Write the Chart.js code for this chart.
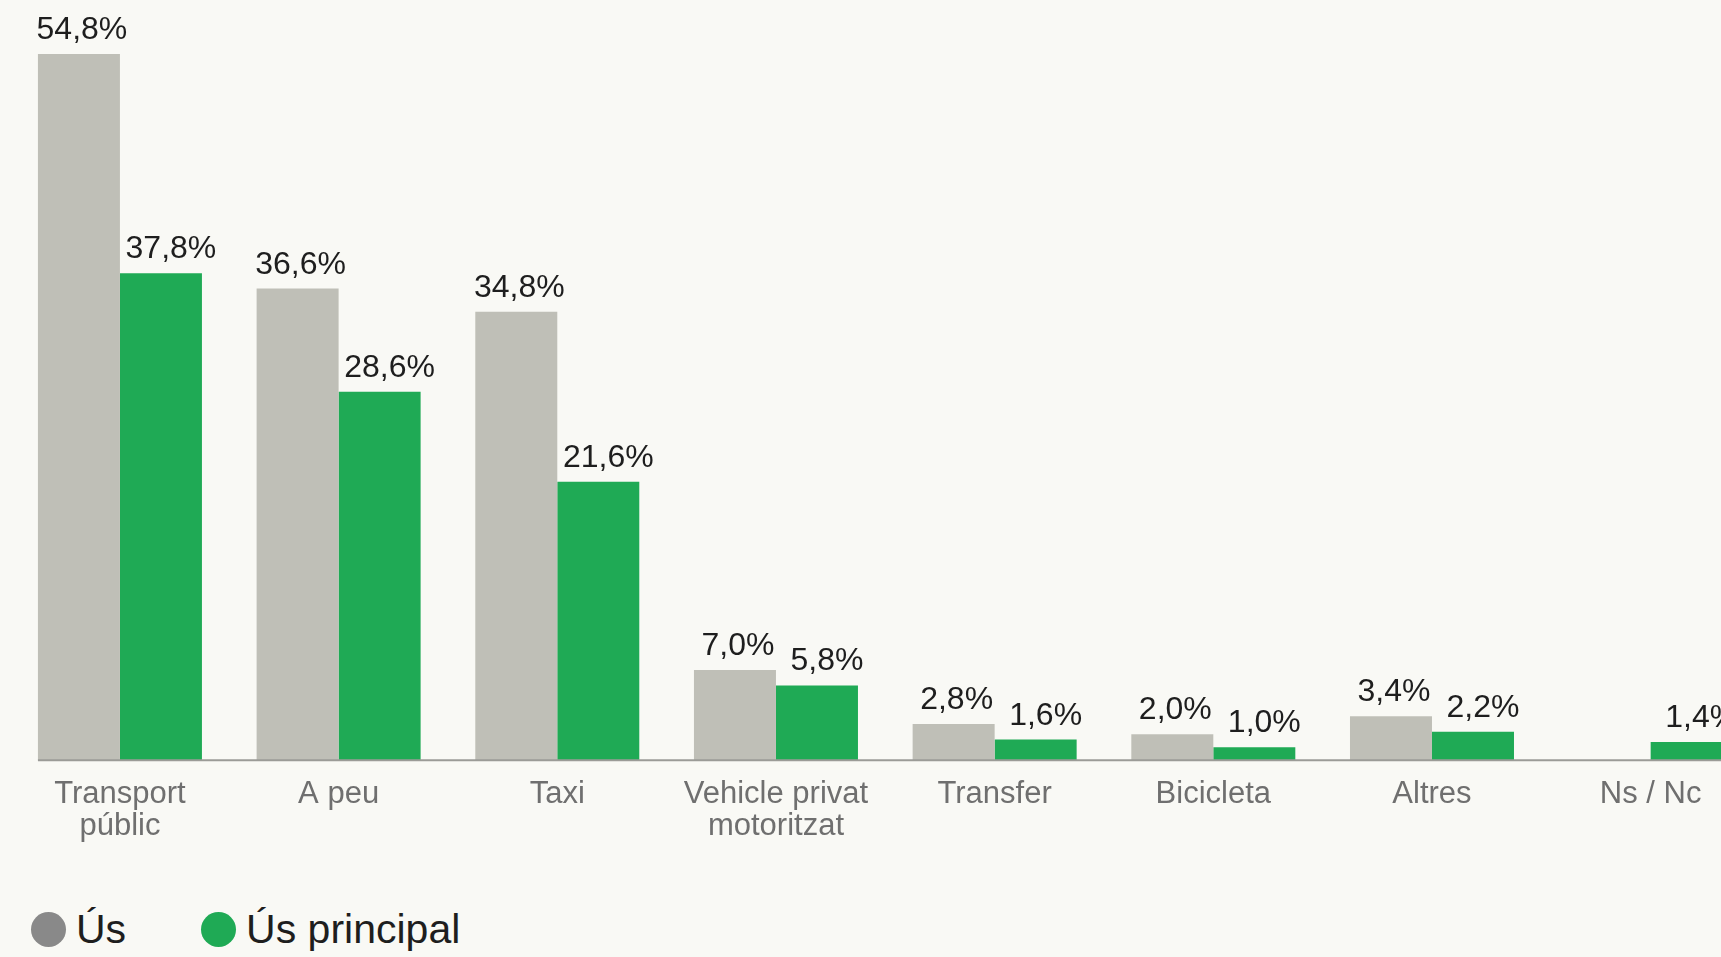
<!DOCTYPE html>
<html lang="ca">
<head>
<meta charset="UTF-8">
<title>Ús de mitjans de transport</title>
<script src="https://cdn.jsdelivr.net/npm/chart.js"></script>
<style>
    html, body {
        margin: 0;
        padding: 0;
        background: #f9f9f5;
        overflow: hidden;
        width: 1721px;
        height: 957px;
        font-family: "Liberation Sans", Arial, sans-serif;
    }
    .chart-box {
        position: absolute;
        left: 0;
        top: 0;
        width: 1760px;
        height: 860px;
    }
    .legend {
        position: absolute;
        left: 31px;
        top: 906px;
        display: flex;
        gap: 75px;
        font-size: 41px;
        color: #1e1e1e;
    }
    .legend-item {
        display: flex;
        align-items: center;
        gap: 10px;
        line-height: 46px;
    }
    .legend-dot {
        width: 35px;
        height: 35px;
        border-radius: 50%;
    }
</style>
</head>
<body>
<div class="chart-box"><canvas id="chart" width="1760" height="860"></canvas></div>
<div class="legend" id="legend"></div>

<script>
    const categories = [
        ['Transport', 'públic'],
        'A peu',
        'Taxi',
        ['Vehicle privat', 'motoritzat'],
        'Transfer',
        'Bicicleta',
        'Altres',
        'Ns / Nc'
    ];
    const usValues = [54.8, 36.6, 34.8, 7.0, 2.8, 2.0, 3.4, null];
    const usPrincipalValues = [37.8, 28.6, 21.6, 5.8, 1.6, 1.0, 2.2, 1.4];
    const seriesNames = ['Ús', 'Ús principal'];
    const barColors = ['#bfbfb7', '#1faa55'];
    const dotColors = ['#898989', '#1faa55'];

    const fmt = v => v.toFixed(1).replace('.', ',') + '%';

    // value labels above each bar (green ones sit a little to the right)
    const labelShift = [3, 10];
    const valueLabels = {
        id: 'valueLabels',
        afterDatasetsDraw(chart) {
            const ctx = chart.ctx;
            ctx.save();
            ctx.font = '32px "Liberation Sans", Arial, sans-serif';
            ctx.fillStyle = '#1e1e1e';
            ctx.textAlign = 'center';
            ctx.textBaseline = 'alphabetic';
            chart.data.datasets.forEach((ds, i) => {
                chart.getDatasetMeta(i).data.forEach((bar, j) => {
                    const v = ds.data[j];
                    if (v == null) return;
                    ctx.fillText(fmt(v), bar.x + labelShift[i], bar.y - 15);
                });
            });
            ctx.restore();
        }
    };

    // baseline from the first bar to the right edge
    const baseLine = {
        id: 'baseLine',
        afterDatasetsDraw(chart) {
            const ctx = chart.ctx;
            const first = chart.getDatasetMeta(0).data[0];
            const y = chart.scales.y.getPixelForValue(0);
            ctx.save();
            ctx.strokeStyle = '#9b9b97';
            ctx.lineWidth = 2;
            ctx.beginPath();
            ctx.moveTo(first.x - first.width / 2, y);
            ctx.lineTo(chart.width, y);
            ctx.stroke();
            ctx.restore();
        }
    };

    const chart = new Chart(document.getElementById('chart'), {
        type: 'bar',
        data: {
            labels: categories,
            datasets: [
                {
                    label: seriesNames[0],
                    data: usValues,
                    backgroundColor: barColors[0],
                    barPercentage: 1.0,
                    categoryPercentage: 0.75
                },
                {
                    label: seriesNames[1],
                    data: usPrincipalValues,
                    backgroundColor: barColors[1],
                    barPercentage: 1.0,
                    categoryPercentage: 0.75
                }
            ]
        },
        options: {
            responsive: false,
            animation: false,
            devicePixelRatio: 1,
            layout: {
                padding: { left: 10.6, right: 0, top: 0, bottom: 0 }
            },
            plugins: {
                legend: { display: false },
                tooltip: { enabled: false }
            },
            scales: {
                x: {
                    grid: { display: false, drawTicks: false },
                    border: { display: false },
                    ticks: {
                        color: '#6f6f6f',
                        padding: 18,
                        maxRotation: 0,
                        autoSkip: false,
                        font: { family: '"Liberation Sans", Arial, sans-serif', size: 31, lineHeight: 1.03 }
                    }
                },
                y: {
                    display: false,
                    min: 0,
                    max: 59
                }
            }
        },
        plugins: [valueLabels, baseLine]
    });

    // legend built from the chart datasets
    const legend = document.getElementById('legend');
    chart.data.datasets.forEach((ds, i) => {
        const item = document.createElement('div');
        item.className = 'legend-item';
        const dot = document.createElement('span');
        dot.className = 'legend-dot';
        dot.style.background = dotColors[i];
        const txt = document.createElement('span');
        txt.textContent = ds.label;
        item.appendChild(dot);
        item.appendChild(txt);
        legend.appendChild(item);
    });
</script>
</body>
</html>
